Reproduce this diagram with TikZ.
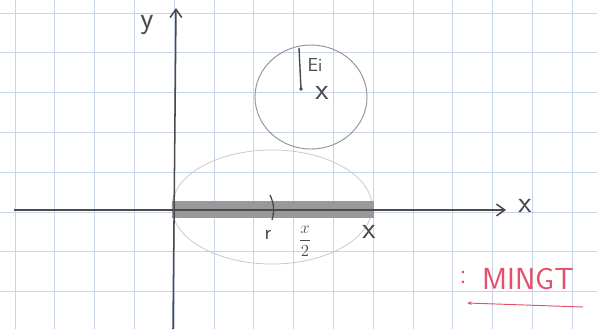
\documentclass[tikz,border=0pt]{standalone}
\usepackage{xcolor}
\usetikzlibrary{arrows.meta,shapes.geometric}
\definecolor{pencil}{HTML}{4A4A4A}
\definecolor{gridblue}{HTML}{C8D5E8}
\definecolor{redpen}{HTML}{E2506C}

\begin{document}
\begin{tikzpicture}[x=0.03cm,y=-0.03cm,
  pen/.style={draw=pencil,line width=1.3pt},
  hand/.style={text=pencil,font=\sffamily\fontsize{26}{28}\selectfont,inner sep=0pt},
  small/.style={text=pencil,font=\sffamily\fontsize{18}{20}\selectfont,inner sep=0pt}]
  \useasboundingbox (0,0) rectangle (597,329);
  \fill[white] (0,0) rectangle (597,329);
  % squared paper
  \foreach \i in {0,...,14}
    \draw[gridblue,line width=0.8pt] (15+39.8*\i,0) -- (15+39.8*\i,329);
  \foreach \j in {0,...,8}
    \draw[gridblue,line width=0.8pt] (0,13+39.8*\j) -- (597,13+39.8*\j);
  % faint ellipse round the segment
  \draw[gray!45,line width=0.6pt] (272,207) ellipse [x radius=3cm, y radius=1.71cm];
  % thick segment on the x axis
  \coordinate (bar1) at (172,201);
  \coordinate (bar2) at (374,218);
  \fill[gray!80] (bar1) rectangle (bar2);
  % axes
  \coordinate (xl) at (14,210);
  \coordinate (xr) at (506,210);
  \coordinate (yb) at (173,329);
  \coordinate (yt) at (176,8);
  \draw[pen,-{Straight Barb[length=7pt,width=10pt]}] (xl) -- (xr);
  \draw[pen,-{Straight Barb[length=7pt,width=10pt]}] (yb) -- (yt);
  \node[hand] (xlab) at (525,206) {x};
  \node[hand] (ylab) at (147,25) {y};
  % tick at the middle
  \coordinate (tk1) at (270,195);
  \coordinate (tk2) at (272,220);
  \draw[pen,line width=1.1pt] (tk1) to[bend left=20] (tk2);
  \node[small] (rlab) at (268,235) {r};
  \node[small,font=\fontsize{14}{16}\selectfont] (half) at (305,241) {$\displaystyle\frac{x}{2}$};
  \node[hand] (xend) at (369,232) {x};
  % circle with the point
  \node[draw=gray!85,line width=0.8pt,ellipse,minimum width=3.36cm,minimum height=3.12cm] (ring) at (311,97) {};
  \coordinate (eitop) at (299,48);
  \coordinate (eidot) at (301,89);
  \draw[pen,line width=1.2pt] (eitop) -- (eidot);
  \fill[pencil] (eidot) circle (1.6pt);
  \node[small,font=\sffamily\fontsize{16}{18}\selectfont] (eilab) at (315,65) {Ei};
  \node[hand] (xin) at (322,93) {x};
  % red note
  \node[text=redpen,font=\sffamily\fontsize{26}{28}\selectfont,inner sep=0pt] (note) at (528,279) {MINGT};
  \node[text=redpen,font=\sffamily\fontsize{24}{26}\selectfont,inner sep=0pt] (colon) at (463,277) {:};
  \coordinate (ul) at (467,303);
  \coordinate (ur) at (583,307);
  \draw[redpen,line width=0.8pt,{Stealth[length=4pt]}-] (ul) -- (ur);
\end{tikzpicture}
\end{document}
